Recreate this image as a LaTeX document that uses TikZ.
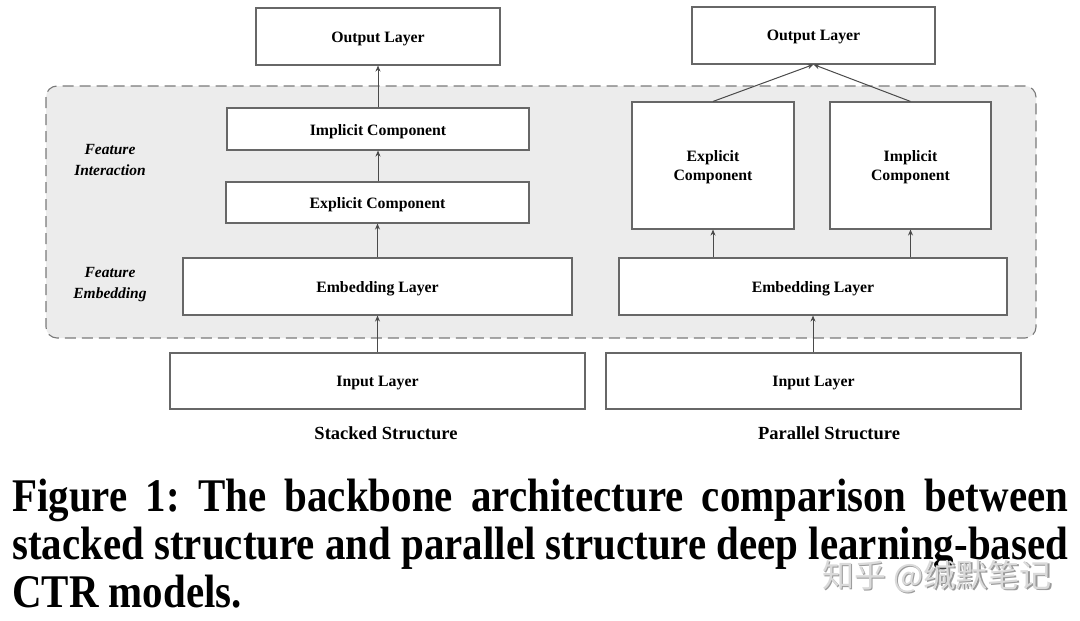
\documentclass[tikz,border=0pt]{standalone}
\usepackage{fontspec}
\setmainfont{Liberation Serif}
\newfontfamily\cjkfont{Noto Sans CJK SC}
\usetikzlibrary{arrows.meta}
\definecolor{boxline}{HTML}{676767}
\definecolor{arrline}{HTML}{4a4a4a}
\definecolor{panelfill}{HTML}{ECECEC}
\definecolor{panelline}{HTML}{7A7A7A}
\definecolor{wmgray}{HTML}{DADADA}
\definecolor{wmshadow}{HTML}{9A9A9A}
\newlength\capw
\begin{document}
\frenchspacing
\settowidth{\capw}{\fontsize{46.8}{50}\selectfont\bfseries stacked structure and parallel structure deep learning-based}
\pgfmathsetmacro\capsx{1056/\capw}
\begin{tikzpicture}[x=1pt,y=-1pt,
  layerbox/.style={draw=boxline, line width=1.1pt, fill=white, inner sep=0pt},
  boxtext/.style={inner sep=0pt, font=\fontsize{15.8}{19}\selectfont\bfseries, align=center},
  arr/.style={draw=arrline, line width=1pt, -{Stealth[length=6pt,width=5pt]}},
  sidelabel/.style={font=\fontsize{15.5}{21}\selectfont\bfseries\itshape, align=center},
  subtitle/.style={font=\fontsize{18.5}{22}\selectfont\bfseries},
  capline/.style={anchor=base west, inner sep=0pt, font=\fontsize{46.8}{50}\selectfont\bfseries},
  wmtext/.style={anchor=west, inner sep=0pt, font=\cjkfont\fontsize{32}{34}\selectfont}]
\useasboundingbox (0,0) rectangle (1080,621);
\fill[white] (0,0) rectangle (1080,621);

% shared grey panel behind the feature stages
\draw[panelline, fill=panelfill, line width=1.1pt, dash pattern=on 11pt off 6pt, rounded corners=11pt]
  (46,86) rectangle (1036,338);

% stacked structure
\node[layerbox, minimum width=244, minimum height=57] (outL) at (378,36.5) {};
\node[layerbox, minimum width=302, minimum height=42] (implL) at (378,129) {};
\node[layerbox, minimum width=303, minimum height=41] (explL) at (377.5,202.5) {};
\node[layerbox, minimum width=389, minimum height=57] (embL) at (377.5,286.5) {};
\node[layerbox, minimum width=415, minimum height=56] (inL) at (377.5,381) {};

\node[boxtext] (outLt) at ([yshift=-2.5pt]outL.center) {Output Layer};
\node[boxtext] (implLt) at ([yshift=-2.5pt]implL.center) {Implicit Component};
\node[boxtext] (explLt) at ([yshift=-2.5pt]explL.center) {Explicit Component};
\node[boxtext] (embLt) at ([yshift=-2.5pt]embL.center) {Embedding Layer};
\node[boxtext] (inLt) at ([yshift=-2.5pt]inL.center) {Input Layer};

\node[sidelabel] (fi) at (110,160) {Feature\\Interaction};
\node[sidelabel] (fe) at (110,284.5) {Feature\\Embedding};

\draw[arr] (inL.north -| embL.south) -- (embL.south);
\draw[arr] (embL.north -| explL.south) -- (explL.south);
\draw[arr] (explL.north -| implL.south) -- (implL.south);
\draw[arr] (implL.north -| outL.south) -- (outL.south);

\node[subtitle] (stk) at (386,433) {Stacked Structure};

% parallel structure
\node[layerbox, minimum width=243, minimum height=57] (outR) at (813.5,35.5) {};
\node[layerbox, minimum width=162, minimum height=127] (explR) at (713,165.5) {};
\node[layerbox, minimum width=161, minimum height=127] (implR) at (910.5,165.5) {};
\node[layerbox, minimum width=388, minimum height=57] (embR) at (813,286.5) {};
\node[layerbox, minimum width=415, minimum height=56] (inR) at (813.5,381) {};

\node[boxtext] (outRt) at ([yshift=-1.5pt]outR.center) {Output Layer};
\node[boxtext] (explRt) at ([yshift=-2pt]explR.center) {Explicit\\Component};
\node[boxtext] (implRt) at ([yshift=-2pt]implR.center) {Implicit\\Component};
\node[boxtext] (embRt) at ([yshift=-2.5pt]embR.center) {Embedding Layer};
\node[boxtext] (inRt) at ([yshift=-2.5pt]inR.center) {Input Layer};

\draw[arr] (inR.north -| embR.south) -- (embR.south);
\draw[arr] (embR.north -| explR.south) -- (explR.south);
\draw[arr] (embR.north -| implR.south) -- (implR.south);
\draw[arr] (explR.north) -- (outR.south);
\draw[arr] (implR.north) -- (outR.south);

\node[subtitle] (par) at (829,433) {Parallel Structure};

% caption
\node[capline] (cap1) at (12,511) {\scalebox{\capsx}[1]{\makebox[\capw][s]{Figure 1: The backbone architecture comparison between}}};
\node[capline] (cap2) at (12,559) {\scalebox{\capsx}[1]{stacked structure and parallel structure deep learning-based}};
\node[capline] (cap3) at (12,607) {\scalebox{\capsx}[1]{CTR models.}};

% watermark with a soft drop shadow
\node[wmtext, text=wmshadow] (wmsh) at (823.5,578) {知乎 @缄默笔记};
\node[wmtext, text=wmgray] (wm) at (822,576.5) {知乎 @缄默笔记};
\end{tikzpicture}
\end{document}
